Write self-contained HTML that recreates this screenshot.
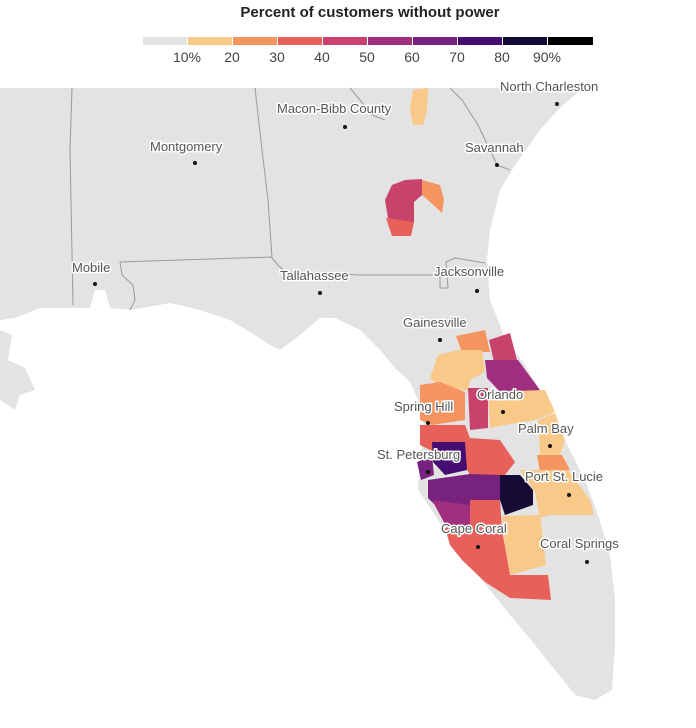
<!DOCTYPE html>
<html><head><style>
body{margin:0;background:#fff;width:696px;height:723px;overflow:hidden;font-family:"Liberation Sans",Arial,sans-serif}
text{font-family:"Liberation Sans",Arial,sans-serif}
.l{font-size:13px;fill:#555;stroke:#fff;stroke-width:3px;paint-order:stroke;stroke-linejoin:round}
</style></head><body>
<svg width="696" height="723" viewBox="0 0 696 723" xmlns="http://www.w3.org/2000/svg">
<text x="370" y="17" text-anchor="middle" font-size="15" font-weight="bold" fill="#222">Percent of customers without power</text>
<g>
<rect x="143" y="37" width="44" height="8" fill="#e3e3e3"/>
<rect x="188" y="37" width="44" height="8" fill="#f9c98a"/>
<rect x="233" y="37" width="44" height="8" fill="#f4955f"/>
<rect x="278" y="37" width="44" height="8" fill="#e8605a"/>
<rect x="323" y="37" width="44" height="8" fill="#c8426c"/>
<rect x="368" y="37" width="44" height="8" fill="#a0307f"/>
<rect x="413" y="37" width="44" height="8" fill="#77227f"/>
<rect x="458" y="37" width="44" height="8" fill="#450c72"/>
<rect x="503" y="37" width="44" height="8" fill="#150b35"/>
<rect x="548" y="37" width="45" height="8" fill="#000"/>
</g>
<g font-size="14" fill="#444" text-anchor="middle">
<text x="187" y="62">10%</text><text x="232" y="62">20</text><text x="277" y="62">30</text><text x="322" y="62">40</text><text x="367" y="62">50</text><text x="412" y="62">60</text><text x="457" y="62">70</text><text x="502" y="62">80</text><text x="547" y="62">90%</text>
</g>
<!-- land -->
<path fill="#e3e3e3" d="M0,88 L583,88 L560,108 L540,130 L515,165 L500,190 L490,230 L487,260 L490,300 L505,338 L525,365 L545,400 L565,440 L585,480 L598,515 L610,555 L615,600 L615,645 L612,690 L595,700 L575,695 L555,670 L535,645 L510,615 L490,590 L470,565 L450,540 L435,515 L418,490 L420,460 L425,430 L418,400 L410,382 L395,368 L380,350 L360,330 L335,318 L320,318 L300,335 L280,350 L270,345 L255,335 L230,320 L200,310 L170,303 L130,310 L110,308 L105,290 L95,290 L90,308 L40,308 L15,318 L0,320 Z"/>
<path fill="#e3e3e3" d="M0,330 L12,335 L8,360 L25,368 L35,390 L20,395 L15,410 L0,400 Z"/>
<!-- borders -->
<g fill="none" stroke="#9a9a9a" stroke-width="1">
<path d="M72,88 L70,150 L73,305"/>
<path d="M255,88 L262,150 L268,200 L272,258 L278,265"/>
<path d="M120,262 L272,257"/>
<path d="M120,262 L122,275 L133,285 L135,300 L130,310"/>
<path d="M278,265 L285,272 L360,275 L435,275"/>
<path d="M435,275 L440,265 L440,288 L448,288 L446,262 L455,258 L485,263"/>
<path d="M350,88 L360,100 L372,115 L385,120"/>
<path d="M450,88 L462,100 L478,125 L490,150 L497,165 L510,170"/>
</g>
<!-- Georgia counties -->
<path fill="#f9c98a" d="M413,90 L428,88 L427,110 L423,125 L413,125 L410,110 Z"/>
<path fill="#c8426c" d="M385,200 L392,185 L405,180 L422,179 L422,195 L414,202 L414,222 L400,222 L388,218 Z"/>
<path fill="#f4955f" d="M422,180 L440,185 L444,200 L442,213 L428,200 L422,195 Z"/>
<path fill="#e8605a" d="M386,218 L414,222 L411,236 L392,236 Z"/>
<!-- Florida counties -->
<path fill="#f4955f" d="M456,336 L485,330 L490,352 L462,352 Z"/>
<path fill="#c8426c" d="M489,340 L510,333 L517,360 L494,362 Z"/>
<path fill="#f9c98a" d="M438,355 L458,350 L482,350 L485,372 L470,380 L468,390 L440,388 L430,378 Z"/>
<path fill="#a0307f" d="M485,360 L518,360 L540,390 L503,395 L487,378 Z"/>
<path fill="#f4955f" d="M420,385 L440,382 L465,392 L465,420 L432,425 L420,420 Z"/>
<path fill="#c8426c" d="M468,388 L488,388 L488,428 L470,430 Z"/>
<path fill="#f9c98a" d="M488,392 L545,390 L555,412 L535,420 L505,425 L490,428 Z"/>
<path fill="#f9c98a" d="M538,420 L555,413 L565,440 L560,455 L540,455 Z"/>
<path fill="#e8605a" d="M420,425 L465,425 L470,438 L500,440 L515,462 L505,475 L470,475 L462,460 L430,450 L420,445 Z"/>
<path fill="#450c72" d="M432,442 L465,442 L467,470 L445,475 L433,462 Z"/>
<path fill="#77227f" d="M417,462 L432,456 L434,475 L421,480 Z"/>
<path fill="#f4955f" d="M537,455 L562,455 L570,470 L540,472 Z"/>
<path fill="#f9c98a" d="M520,470 L568,470 L590,500 L594,515 L550,515 L540,518 L535,492 Z"/>
<path fill="#77227f" d="M428,480 L470,474 L500,475 L500,500 L470,505 L440,510 L428,498 Z"/>
<path fill="#150b35" d="M500,475 L520,475 L533,490 L533,505 L505,515 L500,500 Z"/>
<path fill="#a0307f" d="M432,500 L470,505 L470,532 L447,528 Z"/>
<path fill="#e8605a" d="M470,500 L500,500 L502,530 L470,530 Z"/>
<path fill="#f9c98a" d="M502,516 L540,515 L544,548 L546,565 L510,575 L505,548 Z"/>
<path fill="#e8605a" d="M445,528 L502,530 L510,575 L548,575 L551,600 L510,598 L485,582 L462,560 L450,545 Z"/>
<!-- labels -->
<g fill="#111">
<circle cx="345" cy="127" r="2"/><circle cx="195" cy="163" r="2"/><circle cx="557" cy="104" r="2"/><circle cx="497" cy="165" r="2"/>
<circle cx="95" cy="284" r="2"/><circle cx="320" cy="293" r="2"/><circle cx="477" cy="291" r="2"/><circle cx="440" cy="340" r="2"/>
<circle cx="428" cy="423" r="2"/><circle cx="503" cy="412" r="2"/><circle cx="550" cy="446" r="2"/><circle cx="428" cy="472" r="2"/>
<circle cx="569" cy="495" r="2"/><circle cx="478" cy="547" r="2"/><circle cx="587" cy="562" r="2"/>
</g>
<g class="l">
<text x="500" y="91">North Charleston</text>
<text x="277" y="113">Macon-Bibb County</text>
<text x="150" y="151">Montgomery</text>
<text x="465" y="152">Savannah</text>
<text x="72" y="272">Mobile</text>
<text x="280" y="280">Tallahassee</text>
<text x="434" y="276">Jacksonville</text>
<text x="403" y="327">Gainesville</text>
<text x="394" y="411">Spring Hill</text>
<text x="477" y="399">Orlando</text>
<text x="518" y="433">Palm Bay</text>
<text x="377" y="459">St. Petersburg</text>
<text x="525" y="481">Port St. Lucie</text>
<text x="441" y="533">Cape Coral</text>
<text x="540" y="548">Coral Springs</text>
</g>
</svg>
</body></html>
